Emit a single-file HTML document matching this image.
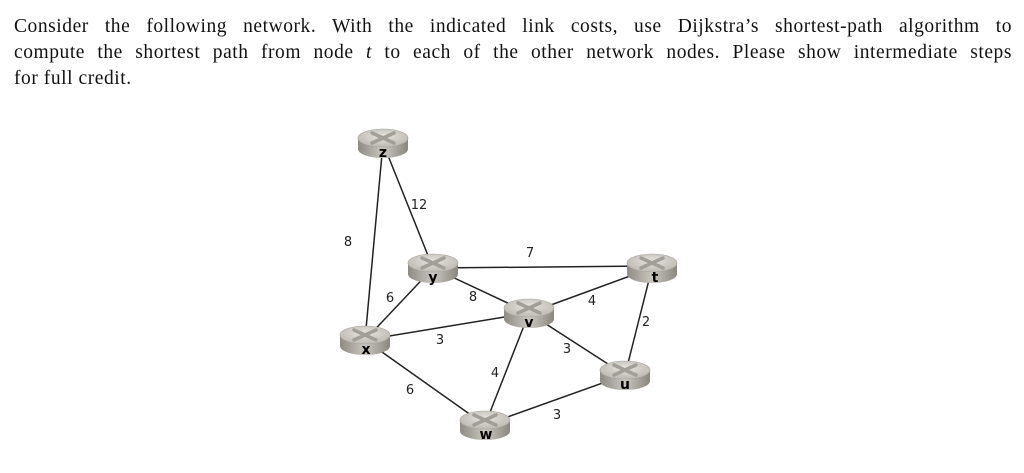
<!DOCTYPE html>
<html><head><meta charset="utf-8"><style>
html,body{margin:0;padding:0;background:#fff;}
body{width:1024px;height:473px;position:relative;overflow:hidden;}
.t{position:absolute;left:14px;font-family:"Liberation Serif",serif;font-size:19.5px;letter-spacing:0.55px;color:#111;white-space:nowrap;}
.j{width:998px;text-align:justify;text-align-last:justify;white-space:normal;}
svg{position:absolute;left:0;top:0;}
</style></head><body>
<div class="t j" style="top:16px">Consider the following network. With the indicated link costs, use Dijkstra’s shortest-path algorithm to</div>
<div class="t j" style="top:42px">compute the shortest path from node <i>t</i> to each of the other network nodes. Please show intermediate steps</div>
<div class="t" style="top:68px">for full credit.</div>
<svg width="1024" height="473" viewBox="0 0 1024 473">
<defs>
<linearGradient id="side" x1="0" x2="1" y1="0" y2="0">
<stop offset="0" stop-color="#8e8a84"/><stop offset="0.5" stop-color="#c9c6c0"/><stop offset="1" stop-color="#8a8680"/>
</linearGradient>
<radialGradient id="top" cx="0.5" cy="0.4" r="0.6">
<stop offset="0" stop-color="#e6e4e0"/><stop offset="1" stop-color="#bdb9b3"/>
</radialGradient>
<g id="r">
<path d="M-25,-5 L-25,6 A25,9 0 0 0 25,6 L25,-5 Z" fill="url(#side)"/>
<ellipse cx="0" cy="-5" rx="25" ry="9" fill="url(#top)" stroke="#a8a49e" stroke-width="0.6"/>
<path d="M-11,-10 L11,0 M11,-10 L-11,0" stroke="#a29e98" stroke-width="3.5" stroke-linecap="round"/>
</g>
</defs>
<g stroke="#222" stroke-width="1.5">
<line x1="383" y1="143" x2="365" y2="340"/>
<line x1="383" y1="143" x2="433" y2="268"/>
<line x1="433" y1="268" x2="652" y2="266"/>
<line x1="433" y1="268" x2="365" y2="340"/>
<line x1="433" y1="268" x2="529" y2="313"/>
<line x1="365" y1="340" x2="529" y2="313"/>
<line x1="529" y1="313" x2="652" y2="268"/>
<line x1="652" y1="268" x2="625" y2="375"/>
<line x1="529" y1="313" x2="625" y2="375"/>
<line x1="529" y1="313" x2="485" y2="425"/>
<line x1="365" y1="340" x2="485" y2="425"/>
<line x1="485" y1="425" x2="625" y2="375"/>
</g>
<g font-family="DejaVu Sans, sans-serif" font-size="13" fill="#222" text-anchor="middle">
<text x="419" y="209">12</text>
<text x="348" y="246">8</text>
<text x="530" y="257">7</text>
<text x="390" y="302">6</text>
<text x="473" y="301">8</text>
<text x="592" y="305">4</text>
<text x="646" y="326">2</text>
<text x="440" y="344">3</text>
<text x="567" y="353">3</text>
<text x="495" y="377">4</text>
<text x="410" y="394">6</text>
<text x="557" y="419">3</text>
</g>
<g font-family="DejaVu Sans, sans-serif" font-size="14" font-weight="bold" fill="#000" text-anchor="middle">
<use href="#r" x="383" y="143"/><text x="383" y="157">z</text>
<use href="#r" x="433" y="268"/><text x="433" y="282">y</text>
<use href="#r" x="652" y="268"/><text x="655" y="282">t</text>
<use href="#r" x="529" y="313"/><text x="529" y="327">v</text>
<use href="#r" x="365" y="340"/><text x="366" y="354">x</text>
<use href="#r" x="625" y="375"/><text x="625" y="389">u</text>
<use href="#r" x="485" y="425"/><text x="486" y="439">w</text>
</g>
</svg>
</body></html>
